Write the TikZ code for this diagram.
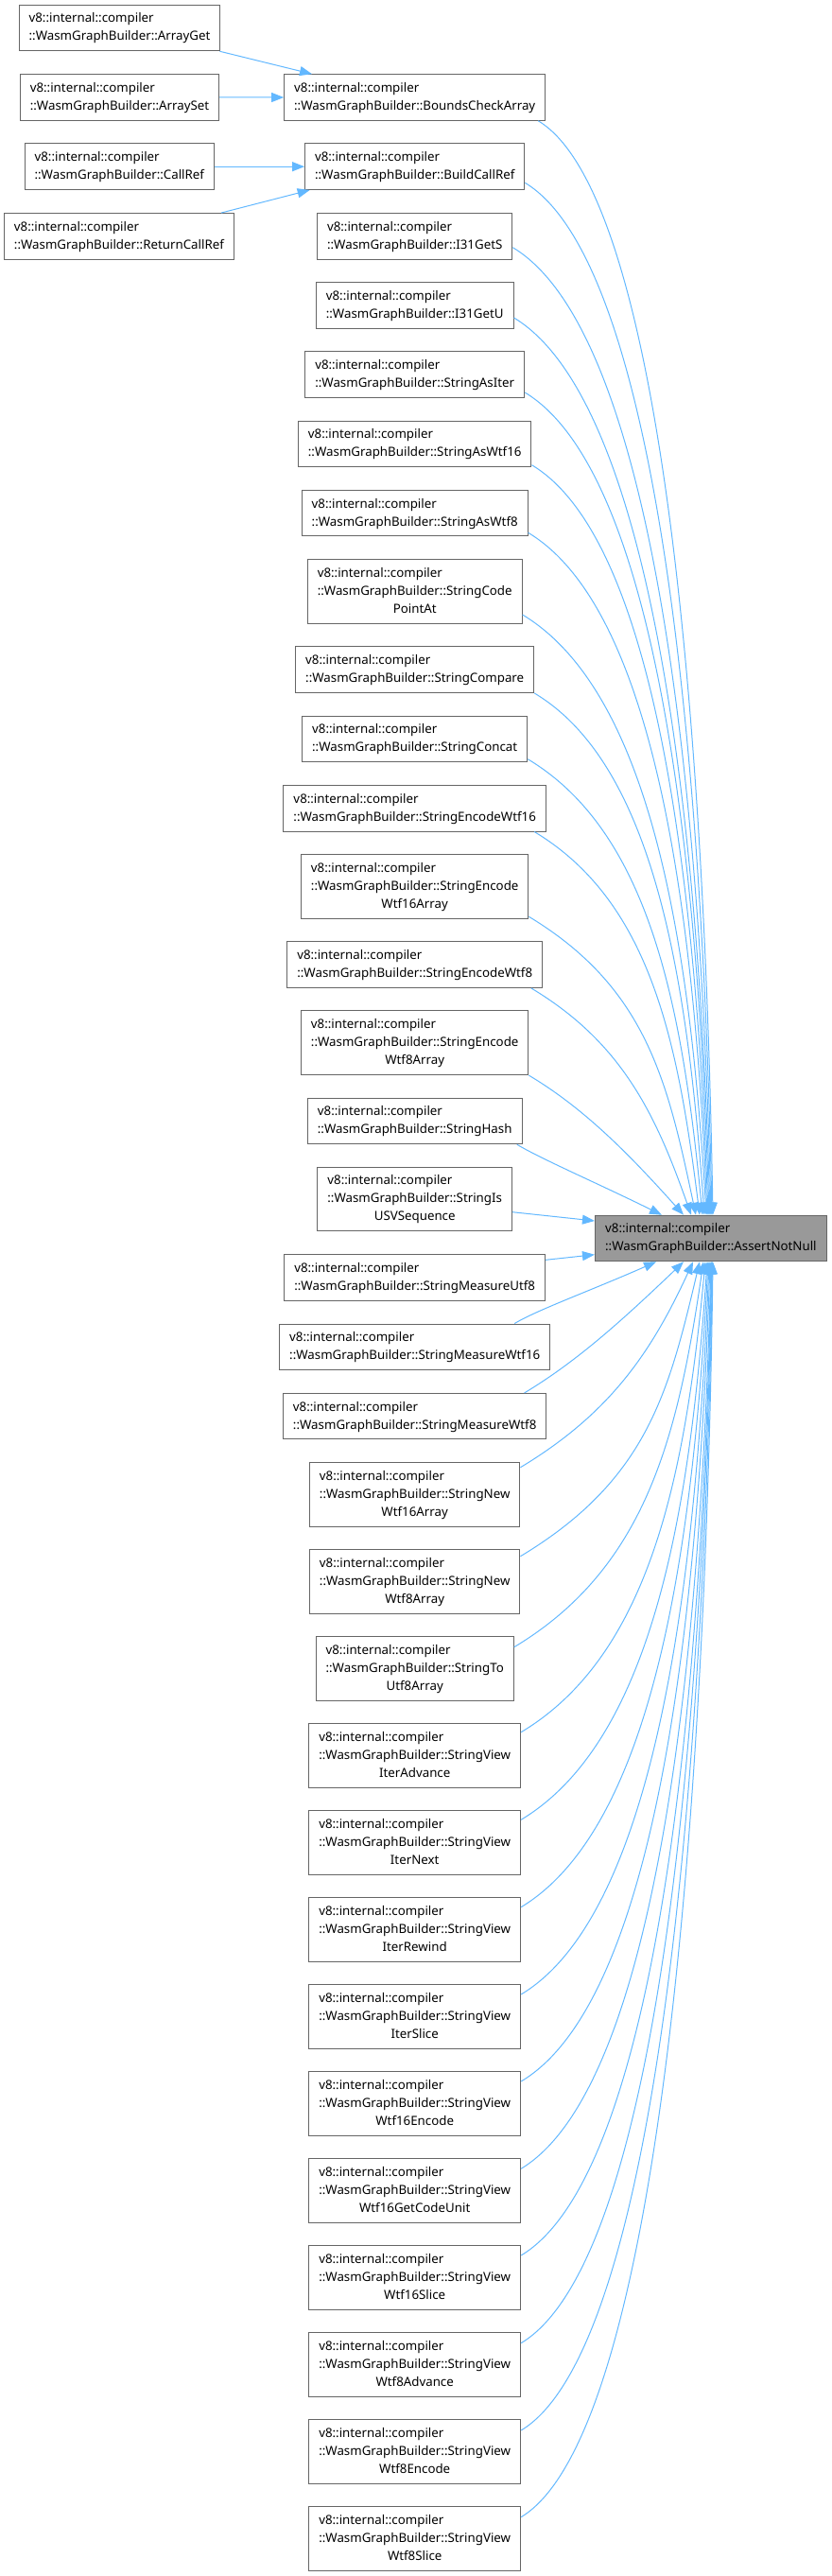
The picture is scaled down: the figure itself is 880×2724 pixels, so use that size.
\documentclass[tikz,border=0pt]{standalone}
\usepackage{fontspec}
\setmainfont{Noto Sans}
\definecolor{edgeblue}{HTML}{63B8FF}
\definecolor{boxgray}{HTML}{666666}
\definecolor{tgtfill}{HTML}{999999}
\usetikzlibrary{positioning, arrows.meta}
\newcommand{\fnname}[1]{\begin{tabular}{@{}l@{}}v8::internal::compiler\\::WasmGraphBuilder::#1\end{tabular}}
\newcommand{\fnwrap}[2]{\begin{tabular}{@{}l@{}}v8::internal::compiler\\::WasmGraphBuilder::#1\\\multicolumn{1}{@{}c@{}}{#2}\end{tabular}}

\begin{document}
\begin{tikzpicture}[x=1pt, y=-1pt,
  fnbox/.style={draw=boxgray, line width=1pt, fill=white, inner xsep=10.5pt, inner ysep=2pt,
    minimum height=48.5pt, font=\fontsize{13.3}{19}\selectfont},
  tallbox/.style={fnbox, minimum height=67.7pt},
  tgtbox/.style={fnbox, fill=tgtfill, minimum width=244.9pt},
  callarrow/.style={draw=edgeblue, line width=1pt, -{Triangle[length=13pt, width=10pt]}}]
  \useasboundingbox (0,0) rectangle (880,2724);

  % callers of the callers
  \node[fnbox] (arrget) at (126.5,29.5) {\fnname{ArrayGet}};
  \node[fnbox] (arrset) at (126.5,102.9) {\fnname{ArraySet}};
  \node[fnbox] (callref) at (126.3,176.2) {\fnname{CallRef}};
  \node[fnbox] (retcallref) at (125.9,249.8) {\fnname{ReturnCallRef}};

  % direct callers
  \node[fnbox] (bca) at (438.7,103) {\fnname{BoundsCheckArray}};
  \node[fnbox] (bcr) at (438.7,176.2) {\fnname{BuildCallRef}};
  \node[fnbox] (i31s) at (438.7,249.8) {\fnname{I31GetS}};
  \node[fnbox] (i31u) at (438.7,323) {\fnname{I31GetU}};
  \node[fnbox] (asiter) at (438.7,396.2) {\fnname{StringAsIter}};
  \node[fnbox] (aswtf16) at (438.7,469.5) {\fnname{StringAsWtf16}};
  \node[fnbox] (aswtf8) at (438.7,542.7) {\fnname{StringAsWtf8}};
  \node[tallbox] (codepoint) at (438.7,625.5) {\fnwrap{StringCode}{PointAt}};
  \node[fnbox] (compare) at (438.7,708.2) {\fnname{StringCompare}};
  \node[fnbox] (concat) at (438.7,781.5) {\fnname{StringConcat}};
  \node[fnbox] (encwtf16) at (438.7,854.8) {\fnname{StringEncodeWtf16}};
  \node[tallbox] (encwtf16arr) at (438.7,937.5) {\fnwrap{StringEncode}{Wtf16Array}};
  \node[fnbox] (encwtf8) at (438.7,1020.2) {\fnname{StringEncodeWtf8}};
  \node[tallbox] (encwtf8arr) at (438.7,1102.8) {\fnwrap{StringEncode}{Wtf8Array}};
  \node[fnbox] (hash) at (438.7,1185.5) {\fnname{StringHash}};
  \node[tallbox] (isusv) at (438.7,1268) {\fnwrap{StringIs}{USVSequence}};
  \node[fnbox] (measutf8) at (438.7,1350.8) {\fnname{StringMeasureUtf8}};
  \node[fnbox] (measwtf16) at (438.7,1424.3) {\fnname{StringMeasureWtf16}};
  \node[fnbox] (measwtf8) at (438.7,1497.7) {\fnname{StringMeasureWtf8}};
  \node[tallbox] (newwtf16) at (438.7,1580.2) {\fnwrap{StringNew}{Wtf16Array}};
  \node[tallbox] (newwtf8) at (438.7,1672.2) {\fnwrap{StringNew}{Wtf8Array}};
  \node[tallbox] (toutf8) at (438.7,1764.2) {\fnwrap{StringTo}{Utf8Array}};
  \node[tallbox] (iteradv) at (438.7,1856.2) {\fnwrap{StringView}{IterAdvance}};
  \node[tallbox] (iternext) at (438.7,1948.2) {\fnwrap{StringView}{IterNext}};
  \node[tallbox] (iterrew) at (438.7,2040.2) {\fnwrap{StringView}{IterRewind}};
  \node[tallbox] (iterslice) at (438.7,2132.2) {\fnwrap{StringView}{IterSlice}};
  \node[tallbox] (w16enc) at (438.7,2224.2) {\fnwrap{StringView}{Wtf16Encode}};
  \node[tallbox] (w16unit) at (438.7,2316.2) {\fnwrap{StringView}{Wtf16GetCodeUnit}};
  \node[tallbox] (w16slice) at (438.7,2408.2) {\fnwrap{StringView}{Wtf16Slice}};
  \node[tallbox] (w8adv) at (438.7,2500.2) {\fnwrap{StringView}{Wtf8Advance}};
  \node[tallbox] (w8enc) at (438.7,2592.2) {\fnwrap{StringView}{Wtf8Encode}};
  \node[tallbox] (w8slice) at (438.7,2684.2) {\fnwrap{StringView}{Wtf8Slice}};

  % the function itself
  \node[tgtbox] (assertnn) at (751.9,1309.5) {\fnname{AssertNotNull}};

  \draw[callarrow] ([xshift=-1pt]arrget.south east) -- ([xshift=29.8pt]bca.north west);
  \draw[callarrow] (arrset.east) -- (bca.west);
  \draw[callarrow] (callref.east) -- (bcr.west);
  \draw[callarrow] ([xshift=-13.8pt]retcallref.north east) -- ([xshift=5.6pt]bcr.south west);

  % from above
  \draw[callarrow] ([xshift=-8pt]bca.south east) .. controls +(130,78) and +(-9,-521) .. ([xshift=2.1pt]assertnn.north);
  \draw[callarrow] ([yshift=-17.1pt]bcr.east) .. controls +(139,84) and +(-10,-491) .. ([xshift=1.1pt]assertnn.north);
  \draw[callarrow] ([yshift=-11.9pt]i31s.east) .. controls +(147,88) and +(-11,-461) .. ([xshift=0.1pt]assertnn.north);
  \draw[callarrow] ([yshift=-13pt]i31u.east) .. controls +(144,87) and +(-12,-427) .. ([xshift=-0.9pt]assertnn.north);
  \draw[callarrow] ([yshift=-18.8pt]asiter.east) .. controls +(136,82) and +(-12,-392) .. ([xshift=-1.9pt]assertnn.north);
  \draw[callarrow] ([yshift=-22.2pt]aswtf16.east) .. controls +(130,78) and +(-13,-357) .. ([xshift=-2.9pt]assertnn.north);
  \draw[callarrow] ([yshift=-20.6pt]aswtf8.east) .. controls +(133,80) and +(-14,-325) .. ([xshift=-3.9pt]assertnn.north);
  \draw[callarrow] ([yshift=-24.5pt]codepoint.east) .. controls +(136,82) and +(-17,-286) .. ([xshift=-4.9pt]assertnn.north);
  \draw[callarrow] (compare.south east) .. controls +(127,76) and +(-18,-249) .. ([xshift=-6.9pt]assertnn.north);
  \draw[callarrow] ([yshift=-21.2pt]concat.east) .. controls +(130,78) and +(-21,-217) .. ([xshift=-8.9pt]assertnn.north);
  \draw[callarrow] ([xshift=-12.7pt]encwtf16.south east) .. controls +(123,74) and +(-23,-183) .. ([xshift=-11.9pt]assertnn.north);
  \draw[callarrow] ([yshift=-31.8pt]encwtf16arr.east) .. controls +(124,75) and +(-30,-142) .. ([xshift=-15.9pt]assertnn.north);
  \draw[callarrow] ([xshift=-12.2pt]encwtf8.south east) .. controls +(95,57) and +(-38,-108) .. ([xshift=-20.9pt]assertnn.north);
  \draw[callarrow] (encwtf8arr.south east) .. controls +(57,34) and +(-60,-67) .. ([xshift=-28.9pt]assertnn.north);
  \draw[callarrow] ([xshift=-5.7pt]hash.south east) .. controls +(27,16) and +(-69,-34) .. ([xshift=-51.9pt]assertnn.north);

  % from the side
  \draw[callarrow] ([yshift=-13.7pt]isusv.east) -- ([yshift=18.5pt]assertnn.west);
  \draw[callarrow] ([yshift=18.5pt]measutf8.east) -- ([yshift=-17.2pt]assertnn.west);

  % from below
  \draw[callarrow] ([xshift=-38pt]measwtf16.north east) .. controls +(23,-14) and +(-68,30) .. ([xshift=-57.9pt]assertnn.south);
  \draw[callarrow] ([xshift=-23.8pt]measwtf8.north east) .. controls +(55,-33) and +(-66,63) .. ([xshift=-28.9pt]assertnn.south);
  \draw[callarrow] ([yshift=28.5pt]newwtf16.east) .. controls +(93,-56) and +(-45,98) .. ([xshift=-18.9pt]assertnn.south);
  \draw[callarrow] ([yshift=26.5pt]newwtf8.east) .. controls +(133,-80) and +(-33,140) .. ([xshift=-11.9pt]assertnn.south);
  \draw[callarrow] ([yshift=22.5pt]toutf8.east) .. controls +(140,-84) and +(-27,184) .. ([xshift=-7.9pt]assertnn.south);
  \draw[callarrow] ([yshift=24.5pt]iteradv.east) .. controls +(137,-82) and +(-21,224) .. ([xshift=-5.9pt]assertnn.south);
  \draw[callarrow] ([yshift=23.9pt]iternext.east) .. controls +(138,-83) and +(-18,266) .. ([xshift=-3.9pt]assertnn.south);
  \draw[callarrow] ([yshift=23.5pt]iterrew.east) .. controls +(139,-84) and +(-16,307) .. ([xshift=-2.9pt]assertnn.south);
  \draw[callarrow] ([yshift=23.2pt]iterslice.east) .. controls +(140,-84) and +(-14,349) .. ([xshift=-1.9pt]assertnn.south);
  \draw[callarrow] ([yshift=23.2pt]w16enc.east) .. controls +(141,-84) and +(-13,390) .. ([xshift=-0.9pt]assertnn.south);
  \draw[callarrow] ([yshift=22.9pt]w16unit.east) .. controls +(141,-85) and +(-11,432) .. ([xshift=0.1pt]assertnn.south);
  \draw[callarrow] ([yshift=23.2pt]w16slice.east) .. controls +(142,-85) and +(-10,473) .. ([xshift=0.6pt]assertnn.south);
  \draw[callarrow] ([yshift=22.5pt]w8adv.east) .. controls +(142,-85) and +(-10,515) .. ([xshift=1.1pt]assertnn.south);
  \draw[callarrow] ([yshift=22.2pt]w8enc.east) .. controls +(142,-85) and +(-9,556) .. ([xshift=1.6pt]assertnn.south);
  \draw[callarrow] ([yshift=22.5pt]w8slice.east) .. controls +(143,-86) and +(-8,598) .. ([xshift=2.1pt]assertnn.south);
\end{tikzpicture}
\end{document}
